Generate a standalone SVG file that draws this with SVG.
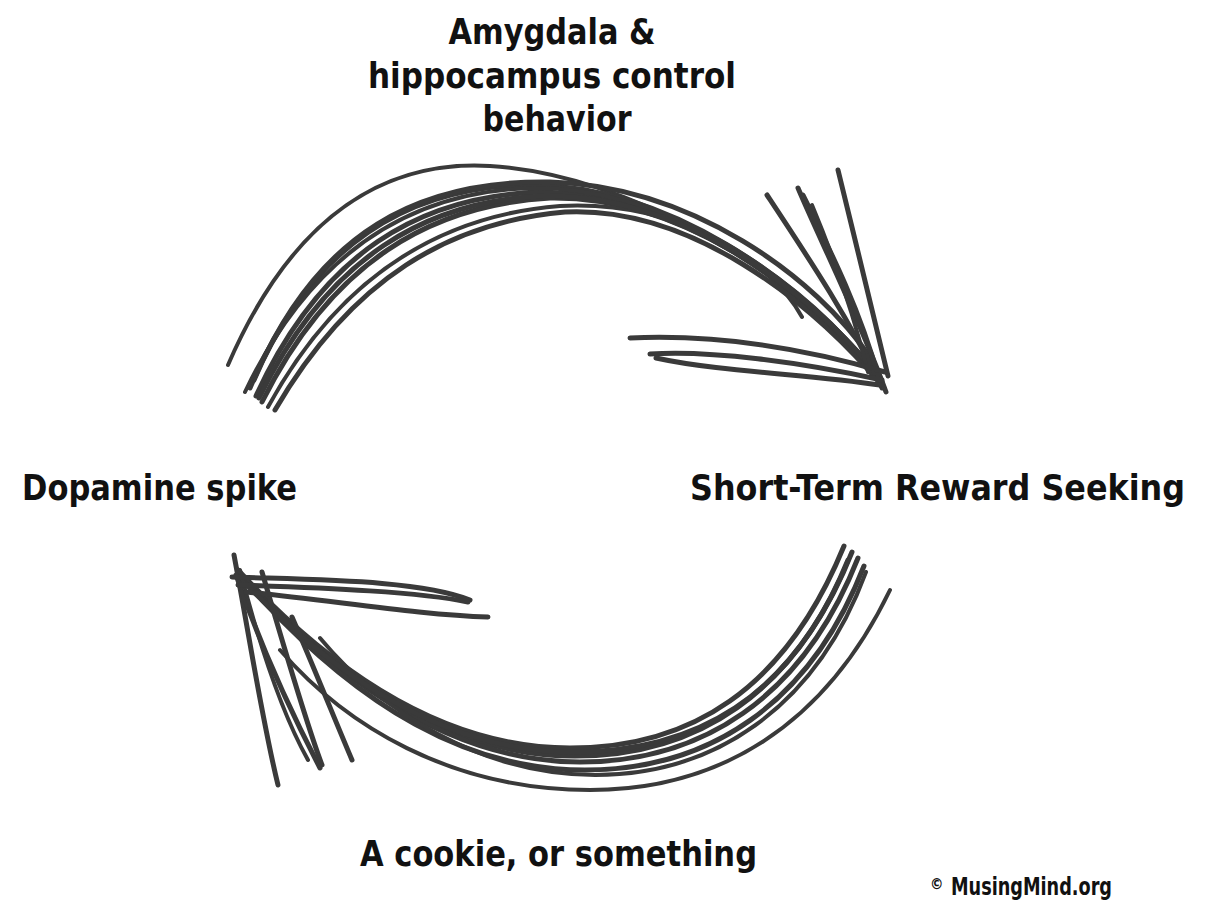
<svg xmlns="http://www.w3.org/2000/svg" width="1218" height="910" viewBox="0 0 1218 910">
<style>
.lbl{font-family:"DejaVu Sans Condensed","DejaVu Sans","Liberation Sans",sans-serif;font-weight:bold;fill:#111;}
.s{fill:none;stroke:#3a3a3a;stroke-width:5;stroke-linecap:round;stroke-linejoin:round;}
.t{stroke-width:4;}
</style>
<rect width="1218" height="910" fill="#fff"/>
<g id="node-amygdala">
<text class="lbl" font-size="36" x="552" y="44" text-anchor="middle" textLength="207" lengthAdjust="spacingAndGlyphs">Amygdala &amp;</text>
<text class="lbl" font-size="36" x="552" y="88" text-anchor="middle" textLength="368" lengthAdjust="spacingAndGlyphs">hippocampus control</text>
<text class="lbl" font-size="36" x="557" y="131" text-anchor="middle" textLength="149" lengthAdjust="spacingAndGlyphs">behavior</text>
</g>
<g id="node-dopamine">
<text class="lbl" font-size="36" x="22" y="500" textLength="275" lengthAdjust="spacingAndGlyphs">Dopamine spike</text>
</g>
<g id="node-reward">
<text class="lbl" font-size="36" x="690" y="500" textLength="495" lengthAdjust="spacingAndGlyphs">Short-Term Reward Seeking</text>
</g>
<g id="node-cookie">
<text class="lbl" font-size="36" x="360" y="866" textLength="397" lengthAdjust="spacingAndGlyphs">A cookie, or something</text>
</g>
<g id="credit">
<text class="lbl" font-size="15" x="930" y="889">©</text>
<text class="lbl" font-size="24" x="951" y="895" textLength="161" lengthAdjust="spacingAndGlyphs">MusingMind.org</text>
</g>
<g id="connectors">
<g id="arrow-top">
<path class="s t" d="M228,365 C295,210 390,160 490,166 C630,175 790,270 868,365"/>
<path class="s" d="M250,388 C312,242 410,186 530,185 C670,186 800,280 878,376"/>
<path class="s" d="M256,396 C322,252 420,196 540,192 C680,192 805,290 882,382"/>
<path class="s" d="M262,402 C332,262 430,205 550,198 C680,196 800,285 876,372"/>
<path class="s t" d="M268,407 C342,272 445,215 560,206 C675,200 770,258 802,317"/>
<path class="s" d="M275,410 C352,278 450,222 565,212 C690,206 810,300 884,388"/>
<path class="s" d="M254,380 C318,230 420,180 550,182 C690,186 815,275 872,360"/>
<path class="s t" d="M245,392 C315,246 418,190 535,188 C660,188 790,270 860,355"/>
<path class="s" d="M259,398 C328,256 428,200 545,196 C670,194 795,278 870,366"/>
<path class="s" d="M767,195 C810,260 850,320 882,388"/>
<path class="s" d="M798,188 C820,240 860,320 886,392"/>
<path class="s" d="M803,195 C830,250 860,310 878,376"/>
<path class="s" d="M838,170 C855,240 875,320 888,376"/>
<path class="s t" d="M812,205 C835,260 855,320 868,372"/>
<path class="s" d="M630,338 C720,334 810,350 885,372"/>
<path class="s" d="M650,354 C710,350 800,362 882,380"/>
<path class="s" d="M656,358 C720,372 810,374 880,385"/>
</g>
<g id="arrow-bottom">
<path class="s" d="M844,546 C785,690 690,748 570,748 C450,748 340,680 238,570"/>
<path class="s" d="M852,552 C795,695 695,756 575,756 C455,756 345,688 244,578"/>
<path class="s" d="M858,558 C802,700 700,762 580,762 C460,762 350,692 250,586"/>
<path class="s" d="M864,566 C810,705 708,770 585,770 C465,770 360,705 262,600"/>
<path class="s t" d="M866,572 C815,710 712,775 595,775 C480,775 380,710 320,638"/>
<path class="s t" d="M890,590 C825,725 720,790 590,790 C450,790 345,725 280,650"/>
<path class="s" d="M848,560 C792,698 695,752 572,752 C452,752 342,684 242,580"/>
<path class="s" d="M234,555 C250,640 262,720 278,785"/>
<path class="s" d="M236,575 C262,650 295,720 320,768"/>
<path class="s" d="M262,572 C285,650 305,720 322,765"/>
<path class="s" d="M292,617 C315,670 335,720 352,760"/>
<path class="s t" d="M240,570 C258,640 280,710 308,760"/>
<path class="s" d="M232,577 C320,580 420,580 470,600"/>
<path class="s" d="M238,585 C330,588 420,592 468,602"/>
<path class="s" d="M246,592 C330,600 420,615 488,617"/>
</g>
</g>
</svg>
